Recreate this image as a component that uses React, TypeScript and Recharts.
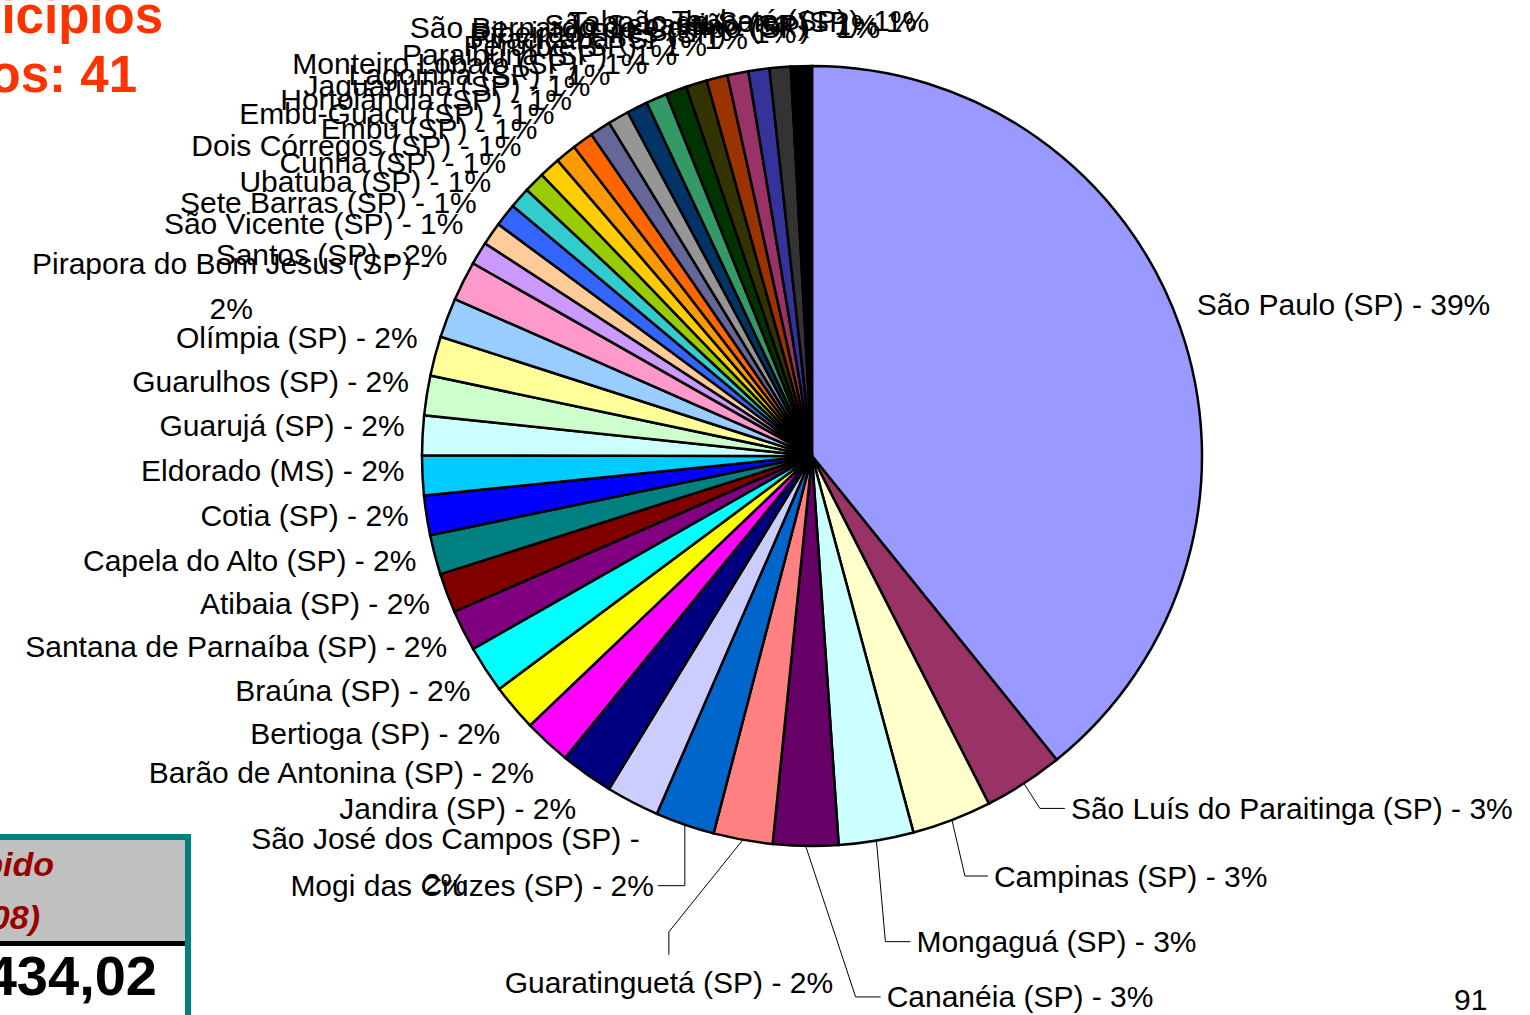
import { Cell, Pie, PieChart } from "recharts";

const municipios = [
  "São Paulo (SP)",
  "São Luís do Paraitinga (SP)",
  "Campinas (SP)",
  "Mongaguá (SP)",
  "Cananéia (SP)",
  "Guaratinguetá (SP)",
  "Mogi das Cruzes (SP)",
  "São José dos Campos (SP)",
  "Jandira (SP)",
  "Barão de Antonina (SP)",
  "Bertioga (SP)",
  "Braúna (SP)",
  "Santana de Parnaíba (SP)",
  "Atibaia (SP)",
  "Capela do Alto (SP)",
  "Cotia (SP)",
  "Eldorado (MS)",
  "Guarujá (SP)",
  "Guarulhos (SP)",
  "Olímpia (SP)",
  "Pirapora do Bom Jesus (SP)",
  "Santos (SP)",
  "São Vicente (SP)",
  "Sete Barras (SP)",
  "Ubatuba (SP)",
  "Cunha (SP)",
  "Dois Córregos (SP)",
  "Embu (SP)",
  "Embu-Guaçu (SP)",
  "Hortolândia (SP)",
  "Jaguariúna (SP)",
  "Lagoinha (SP)",
  "Monteiro Lobato (SP)",
  "Paraibuna (SP)",
  "Peruíbe (SP)",
  "Piracicaba (SP)",
  "Ribeirão Pires (SP)",
  "São Bernardo do Campo (SP)",
  "São Sebastião (SP)",
  "Taboão da Serra (SP)",
  "Taubaté (SP)",
];

const valores = [
  39.2, 3.3, 3.3, 3.1, 2.7, 2.45, 2.45, 2.2, 2.2, 1.95, 1.95, 1.95, 1.7, 1.64,
  1.64, 1.64, 1.64, 1.64, 1.64, 1.64, 1.64, 1.64, 0.95, 0.95, 0.95, 0.87, 0.87,
  0.87, 0.87, 0.87, 0.87, 0.87, 0.87, 0.87, 0.87, 0.87, 0.87, 0.87, 0.87, 0.87,
  0.87,
];

const cores = [
  "#9999FF", "#993366", "#FFFFCC", "#CCFFFF", "#660066", "#FF8080", "#0066CC",
  "#CCCCFF", "#000080", "#FF00FF", "#FFFF00", "#00FFFF", "#800080", "#800000",
  "#008080", "#0000FF", "#00CCFF", "#CCFFFF", "#CCFFCC", "#FFFF99", "#99CCFF",
  "#FF99CC", "#CC99FF", "#FFCC99", "#3366FF", "#33CCCC", "#99CC00", "#FFCC00",
  "#FF9900", "#FF6600", "#666699", "#969696", "#003366", "#339966", "#003300",
  "#333300", "#993300", "#993366", "#333399", "#333333", "#000000",
];

const data = municipios.map((nome, i) => ({ nome, valor: valores[i] }));

// labels that Excel wrapped onto two lines
const quebra = ["São José dos Campos (SP)", "Pirapora do Bom Jesus (SP)"];

// labels moved away from the pie, with a leader line (knee and tail offsets)
const leaders: Record<string, { knee: [number, number]; tail: [number, number] }> = {
  "São Luís do Paraitinga (SP)": { knee: [16, 25], tail: [25, 0] },
  "Campinas (SP)": { knee: [13, 56], tail: [23, 0] },
  "Mongaguá (SP)": { knee: [9, 101], tail: [25, 0] },
  "Cananéia (SP)": { knee: [50, 151], tail: [25, 0] },
  "Guaratinguetá (SP)": { knee: [-74, 92], tail: [0, 23] },
  "Mogi das Cruzes (SP)": { knee: [0, 61], tail: [-27, 0] },
};

const FONT = "'Liberation Sans', Arial, Helvetica, sans-serif";
const SIZE = 30;
const RAD = Math.PI / 180;

let ctx: CanvasRenderingContext2D | null = null;
function textWidth(t: string) {
  if (!ctx) ctx = document.createElement("canvas").getContext("2d");
  if (!ctx) return t.length * SIZE * 0.5;
  ctx.font = `${SIZE}px ${FONT}`;
  return ctx.measureText(t).width;
}

const clamp = (v: number) => Math.max(-1, Math.min(1, v));

function renderLabel(props: any) {
  const { cx, cy, midAngle, outerRadius, percent, index } = props;
  const nome = municipios[index];
  const pct = `${Math.round(percent * 100)}%`;
  const t = (90 - midAngle) * RAD;
  const s = Math.sin(t);
  const c = Math.cos(t);
  const text = `${nome} - ${pct}`;
  const common = { fontFamily: FONT, fontSize: SIZE, fill: "#000", dominantBaseline: "central" as const };

  const leader = leaders[nome];
  if (leader) {
    const ax = cx + outerRadius * s;
    const ay = cy - outerRadius * c;
    const kx = ax + leader.knee[0];
    const ky = ay + leader.knee[1];
    const ex = kx + leader.tail[0];
    const ey = ky + leader.tail[1];
    let tx = ex;
    let ty = ey;
    let anchor: "start" | "end" | "middle" = "middle";
    if (leader.tail[0] > 0) {
      tx = ex + 6;
      anchor = "start";
    } else if (leader.tail[0] < 0) {
      tx = ex - 4;
      anchor = "end";
    } else {
      ty = ey + 28;
    }
    return (
      <g>
        <polyline points={`${ax},${ay} ${kx},${ky} ${ex},${ey}`} fill="none" stroke="#000" strokeWidth={1} />
        <text x={tx} y={ty} textAnchor={anchor} {...common}>
          {text}
        </text>
      </g>
    );
  }

  const lines = quebra.includes(nome) ? [`${nome} -`, pct] : [text];
  const w = Math.max(...lines.map(textWidth));
  const fy = clamp(-1.2 * c);
  const half = (fy > 0 ? 28 : 20) + (lines.length - 1) * 22.5;
  const px = cx + (outerRadius + 18) * s;
  const py = cy - (outerRadius + 18) * c;
  const bx = px + (clamp(2 * s) * w) / 2;
  const by = py + fy * half - 8;
  const y0 = by - (lines.length - 1) * 22.5;
  return (
    <text x={bx} y={y0} textAnchor="middle" {...common}>
      {lines.map((l, i) => (
        <tspan key={i} x={bx} y={y0 + i * 45}>
          {l}
        </tspan>
      ))}
    </text>
  );
}

export default function App() {
  return (
    <div style={{ position: "absolute", left: 0, top: 0, width: 1530, height: 1015, overflow: "hidden", background: "#fff" }}>
      <PieChart width={1530} height={1015} margin={{ top: 0, right: 0, bottom: 0, left: 0 }}>
        <Pie
          data={data}
          dataKey="valor"
          nameKey="nome"
          cx={812}
          cy={456}
          outerRadius={390}
          startAngle={90}
          endAngle={-270}
          stroke="#000"
          strokeWidth={2.5}
          label={renderLabel}
          labelLine={false}
          isAnimationActive={false}
        >
          {data.map((d, i) => (
            <Cell key={d.nome} fill={cores[i]} />
          ))}
        </Pie>
      </PieChart>
      <svg width={1530} height={1015} style={{ position: "absolute", left: 0, top: 0, pointerEvents: "none" }}>
        <g fontFamily={FONT} fontWeight="bold" fill="#FF3300" fontSize={51}>
          <text x={163} y={33} textAnchor="end">Distribuição por Municipios</text>
          <text x={137} y={92} textAnchor="end">Total de Municipios: 41</text>
        </g>
        <rect x={-20} y={838} width={206} height={104} fill="#C0C0C0" />
        <rect x={-20} y={944} width={206} height={80} fill="#fff" />
        <line x1={-20} x2={188} y1={943.5} y2={943.5} stroke="#000" strokeWidth={5} />
        <rect x={-20} y={837} width={208} height={200} fill="none" stroke="#008080" strokeWidth={6} />
        <g fontFamily={FONT} fontWeight="bold" fontStyle="italic" fill="#990000" fontSize={34}>
          <text x={54} y={876} textAnchor="end">Valor Recebido</text>
          <text x={40} y={929} textAnchor="end">(2008)</text>
        </g>
        <text x={157} y={995} textAnchor="end" fontFamily={FONT} fontWeight="bold" fontSize={56} fill="#000">
          R$ 12.434,02
        </text>
        <text x={1454} y={1010} fontFamily={FONT} fontSize={30} fill="#000">
          91
        </text>
      </svg>
    </div>
  );
}
